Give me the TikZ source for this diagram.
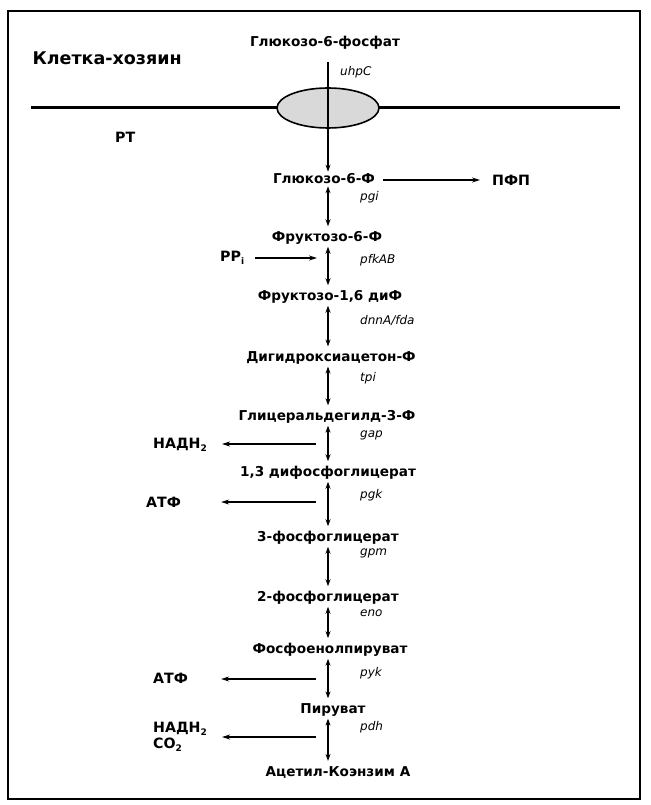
\documentclass[tikz,border=0pt]{standalone}
\usepackage{fontspec}
\setmainfont{DejaVu Sans}
\usetikzlibrary{arrows.meta}
\newcommand\lowidx[1]{\raisebox{-0.45ex}{\fontsize{9}{10}\selectfont #1}}

\begin{document}
\begin{tikzpicture}[x=1pt,y=-1pt,
  met/.style={font=\bfseries\fontsize{13.6}{16}\selectfont, inner sep=2pt},
  gene/.style={font=\itshape\fontsize{12}{14}\selectfont, anchor=west, inner sep=0pt},
  side/.style={font=\bfseries\fontsize{14.2}{16}\selectfont, anchor=west, inner sep=1pt},
  arr/.style={line width=1.1pt, -{Stealth[length=8pt,width=5pt]}},
  biarr/.style={line width=1.1pt, {Stealth[length=7pt,width=5pt]}-{Stealth[length=7pt,width=5pt]}}]

\useasboundingbox (0,0) rectangle (650,805);

% Frame
\draw[line width=1.8pt] (8,11) rectangle (640,799);

% Membrane with transporter
\draw[line width=3pt] (31,108) -- (620,108);
\fill[gray!30] (328,108) ellipse[x radius=51, y radius=20];
\draw[line width=1.6pt] (328,108) ellipse[x radius=51, y radius=20];

\node[font=\bfseries\fontsize{17.5}{21}\selectfont, anchor=west] (host) at (29,58) {Клетка-хозяин};
\node[side] (rt) at (114,137) {РТ};

% Outside metabolite
\node[met] (g6pout) at (325,43) {Глюкозо-6-фосфат};
\node[gene] (uhpc) at (340,72) {uhpC};

% Pathway
\node[met] (g6p) at (324,179) {Глюкозо-6-Ф};
\node[met] (f6p) at (327,238) {Фруктозо-6-Ф};
\node[met] (fbp) at (330,297) {Фруктозо-1,6 диФ};
\node[met] (dhap) at (331,358) {Дигидроксиацетон-Ф};
\node[met] (gap3) at (327,417) {Глицеральдегилд-3-Ф};
\node[met] (bpg) at (328,473) {1,3 дифосфоглицерат};
\node[met] (pg3) at (328,538) {3-фосфоглицерат};
\node[met] (pg2) at (328,598) {2-фосфоглицерат};
\node[met] (pep) at (330,650) {Фосфоенолпируват};
\node[met] (pyr) at (333,710) {Пируват};
\node[met] (acoa) at (338,772) {Ацетил-Коэнзим А};

% Genes
\node[gene] (pgi) at (360,197) {pgi};
\node[gene] (pfk) at (360,260) {pfkAB};
\node[gene] (fda) at (360,320) {dnnA/fda};
\node[gene] (tpi) at (360,378) {tpi};
\node[gene] (gapg) at (360,435) {gap};
\node[gene] (pgk) at (360,495) {pgk};
\node[gene] (gpm) at (360,553) {gpm};
\node[gene] (eno) at (360,613) {eno};
\node[gene] (pyk) at (360,673) {pyk};
\node[gene] (pdh) at (360,727) {pdh};

% Side products
\node[side] (pfp) at (491,180) {ПФП};
\node[side] (ppi) at (219,258) {PP\lowidx{i}};
\node[side] (nadha) at (152,445) {НАДН\lowidx{2}};
\node[side] (atpa) at (145,502) {АТФ};
\node[side] (atpb) at (152,678) {АТФ};
\node[side, align=left] (nadhco) at (152,737) {НАДН\lowidx{2}\\CO\lowidx{2}};

\coordinate (axis) at (328,0);
\coordinate (pfpfrom) at (383,180);
\coordinate (ppiend) at (317,258);
\coordinate (gapout) at (316,444);
\coordinate (pgkout) at (316,502);
\coordinate (pykout) at (316,679);
\coordinate (pdhout) at (316,737);

% Uptake
\draw[line width=1.1pt, -{Stealth[length=7pt,width=5pt]}] (axis |- 0,62) -- (axis |- g6p.north);

% Reversible steps
\foreach \a/\b in {g6p/f6p, f6p/fbp, fbp/dhap, dhap/gap3, gap3/bpg, bpg/pg3, pg3/pg2, pg2/pep, pep/pyr, pyr/acoa}
  \draw[biarr, shorten >=3pt] (axis |- \a.south) -- (axis |- \b.north);

% Side arrows
\draw[arr, shorten >=11pt] (pfpfrom) -- (pfpfrom -| pfp.west);
\draw[arr, shorten <=10pt] (ppiend -| ppi.east) -- (ppiend);
\draw[arr, shorten >=14pt] (gapout) -- (gapout -| nadha.east);
\draw[arr, shorten >=39pt] (pgkout) -- (pgkout -| atpa.east);
\draw[arr, shorten >=32pt] (pykout) -- (pykout -| atpb.east);
\draw[arr, shorten >=14pt] (pdhout) -- (pdhout -| nadhco.east);

\end{tikzpicture}
\end{document}
